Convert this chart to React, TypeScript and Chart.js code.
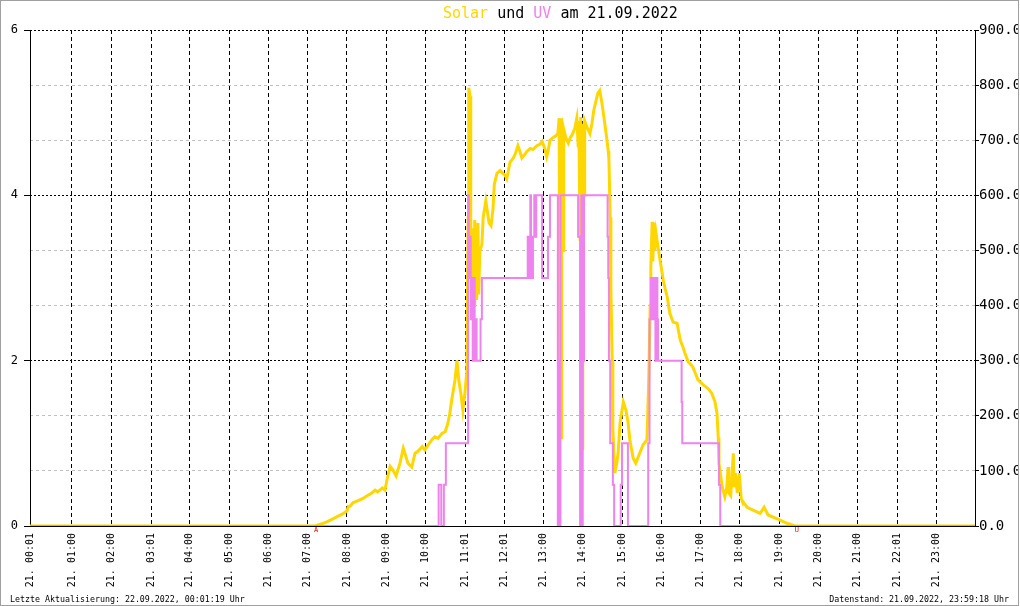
import React, { useEffect, useRef } from 'react';
import { Chart, registerables } from 'chart.js';

Chart.register(...registerables);

// ---- data (minutes since 00:00 on 21.09.2022) ----
const X_MIN = -4;
const X_MAX = 1439;

const HOUR_TICK_MIN = [X_MIN, 60, 120, 181, 240, 300, 360, 420, 480, 540, 600, 661, 721, 780, 840, 900, 960, 1020, 1080, 1140, 1200, 1260, 1321, 1380];
const HOUR_TICK_LABELS = [
  '21. 00:01', '21. 01:00', '21. 02:00', '21. 03:01', '21. 04:00', '21. 05:00',
  '21. 06:00', '21. 07:00', '21. 08:00', '21. 09:00', '21. 10:00', '21. 11:01',
  '21. 12:01', '21. 13:00', '21. 14:00', '21. 15:00', '21. 16:00', '21. 17:00',
  '21. 18:00', '21. 19:00', '21. 20:00', '21. 21:00', '21. 22:01', '21. 23:00',
];

// Solar radiation W/m² (right axis)
const SOLAR_MIN = [
  -4, 433, 434, 442, 450, 457, 465, 472, 480, 482, 485, 489, 497, 503, 511, 518, 523, 527, 534, 538,
  541, 546, 550, 555, 561, 566, 570, 573, 579, 584, 588, 595, 599, 604, 610, 614, 619, 625, 630, 634,
  637, 640, 645, 648, 651, 654, 657, 660, 663, 665, 666, 668, 669, 670, 672, 674, 675, 677, 678, 680,
  681, 683, 686, 688, 692, 697, 700, 703, 705, 709, 714, 718, 721, 724, 729, 734, 737, 741, 744, 747,
  752, 755, 760, 764, 770, 775, 778, 782, 785, 787, 790, 795, 799, 802, 804, 805, 807, 808, 810, 811,
  814, 818, 821, 824, 828, 831, 833, 834, 836, 837, 839, 840, 842, 843, 846, 851, 854, 857, 860, 863,
  866, 869, 872, 876, 879, 880, 882, 883, 885, 886, 888, 889, 892, 894, 897, 902, 906, 909, 912, 917,
  921, 927, 932, 938, 939, 941, 943, 944, 946, 947, 949, 950, 952, 955, 958, 963, 966, 969, 973, 978,
  984, 989, 993, 996, 1001, 1008, 1016, 1024, 1031, 1037, 1042, 1045, 1047, 1048, 1053, 1057, 1060, 1062, 1063, 1066,
  1070, 1071, 1073, 1076, 1079, 1082, 1083, 1091, 1100, 1111, 1117, 1123, 1137, 1152, 1164, X_MAX,
];
const SOLAR_WM2 = [
  0, 0, 1, 4, 8, 12, 17, 21, 27, 36, 36, 42, 46, 49, 55, 60, 65, 62, 69, 65,
  83, 108, 102, 91, 114, 141, 126, 114, 107, 132, 135, 144, 138, 147, 157, 162, 159, 168, 171, 186,
  204, 229, 265, 300, 262, 240, 210, 240, 280, 560, 795, 780, 560, 450, 540, 400, 555, 460, 410, 550,
  420, 500, 510, 560, 590, 550, 545, 575, 620, 640, 645, 640, 637, 630, 660, 668, 675, 690, 680, 668,
  675, 680, 685, 683, 690, 693, 698, 685, 670, 680, 700, 705, 708, 712, 740, 300, 160, 740, 500, 720,
  705, 695, 705, 710, 722, 740, 690, 735, 520, 742, 140, 730, 600, 735, 725, 712, 730, 755, 770, 785,
  790, 770, 745, 710, 680, 665, 560, 430, 300, 175, 120, 96, 114, 132, 187, 225, 210, 190, 156, 123,
  114, 132, 147, 156, 190, 277, 400, 470, 552, 480, 550, 500, 531, 506, 483, 446, 430, 416, 386, 370,
  368, 337, 325, 314, 298, 289, 265, 256, 250, 241, 225, 205, 160, 114, 71, 53, 70, 107, 60, 55,
  132, 70, 96, 60, 96, 50, 47, 34, 29, 23, 34, 20, 13, 5, 0, 0,
];

// UV index (left axis), value holds from each time until the next one
const UV_MIN = [
  -4, 620, 624, 628, 631, 665, 666, 668, 669, 670, 672, 674, 675, 677, 678, 684, 686,
  756, 758, 760, 761, 763, 764, 766, 767, 769, 778, 787, 790, 802, 804, 805, 806,
  833, 836, 837, 838, 839, 840, 842, 878, 879, 880, 882, 886, 888, 898, 900, 909,
  940, 942, 944, 945, 946, 947, 948, 949, 950, 951, 952, 953, 954, 955, 991, 992, 1048, 1050, X_MAX,
];
const UV_INDEX = [
  0, 0.5, 0, 0.5, 1, 4, 3, 3.5, 2.5, 3, 2, 3, 2, 2.5, 2, 2.5, 3,
  3.5, 3, 4, 3.5, 3, 3.5, 4, 3.5, 4, 3, 3.5, 4, 0, 2, 0, 4,
  3.5, 0, 1.5, 4, 0, 2, 4, 3.5, 3, 2, 1, 0.5, 0, 0.5, 1, 0,
  1, 2.5, 3, 2.5, 3, 2.5, 3, 2.5, 3, 2, 2.5, 3, 2.5, 2, 1.5, 1, 0.5, 0, 0,
];

const SUN_EVENT_MIN = [433, 1167];
const SUN_EVENT_LABELS = ['A', 'U'];

const TITLE_PARTS: [string, string][] = [
  ['Solar', '#FFD700'],
  [' und ', '#000000'],
  ['UV', '#EE82EE'],
  [' am 21.09.2022', '#000000'],
];
const FOOTER_LEFT = 'Letzte Aktualisierung: 22.09.2022, 00:01:19 Uhr';
const FOOTER_RIGHT = 'Datenstand: 21.09.2022, 23:59:18 Uhr';

const SOLAR_COLOR = '#FFD700';
const UV_COLOR = '#EE82EE';
const MONO = '"DejaVu Sans Mono", monospace';

const isMajor = (c: any) => !!(c && c.tick && c.tick.value % 300 === 0);

const overlayPlugin = {
  id: 'overlay',
  afterDraw(chart: any) {
    const ctx = chart.ctx as CanvasRenderingContext2D;
    ctx.save();
    // title
    ctx.font = `15px ${MONO}`;
    ctx.textAlign = 'left';
    ctx.textBaseline = 'alphabetic';
    let x = 443;
    for (const [t, c] of TITLE_PARTS) {
      ctx.fillStyle = c;
      ctx.fillText(t, x, 18);
      x += ctx.measureText(t).width;
    }
    // footer
    ctx.font = `8.3px ${MONO}`;
    ctx.fillStyle = '#000';
    ctx.fillText(FOOTER_LEFT, 10, 602);
    ctx.textAlign = 'right';
    ctx.fillText(FOOTER_RIGHT, 1009, 602);
    // sunrise / sunset markers
    const xs = chart.scales.x;
    ctx.font = `7px ${MONO}`;
    ctx.fillStyle = '#ff0000';
    ctx.textAlign = 'center';
    ctx.textBaseline = 'top';
    SUN_EVENT_MIN.forEach((m, i) => {
      ctx.fillText(SUN_EVENT_LABELS[i], xs.getPixelForValue(m), 527);
    });
    // frame
    ctx.fillStyle = '#fff';
    ctx.fillRect(1019, 0, 1, 606);
    ctx.strokeStyle = '#a0a0a0';
    ctx.lineWidth = 1;
    ctx.strokeRect(0.5, 0.5, 1018, 605);
    ctx.restore();
  },
};

export default function App() {
  const ref = useRef<HTMLCanvasElement | null>(null);

  useEffect(() => {
    if (!ref.current) return;
    const chart = new Chart(ref.current, {
      type: 'line',
      data: {
        datasets: [
          {
            label: 'UV',
            data: UV_MIN.map((m, i) => ({ x: m, y: UV_INDEX[i] })),
            yAxisID: 'y',
            borderColor: UV_COLOR,
            backgroundColor: UV_COLOR,
            borderWidth: 2,
            stepped: true,
            pointRadius: 0,
            fill: false,
          },
          {
            label: 'Solar',
            data: SOLAR_MIN.map((m, i) => ({ x: m, y: SOLAR_WM2[i] })),
            yAxisID: 'y1',
            borderColor: SOLAR_COLOR,
            backgroundColor: SOLAR_COLOR,
            borderWidth: 3,
            tension: 0,
            pointRadius: 0,
            fill: false,
          },
        ],
      },
      options: {
        responsive: false,
        animation: false,
        devicePixelRatio: 1,
        layout: { padding: { top: 30, left: 0, right: 0, bottom: 0 } },
        plugins: {
          legend: { display: false },
          title: { display: false },
          tooltip: { enabled: false },
        },
        scales: {
          x: {
            type: 'linear',
            min: X_MIN,
            max: X_MAX,
            afterBuildTicks: (scale: any) => {
              scale.ticks = HOUR_TICK_MIN.map((v) => ({ value: v }));
            },
            afterFit: (scale: any) => {
              scale.height = 80;
            },
            ticks: {
              autoSkip: false,
              maxRotation: 90,
              minRotation: 90,
              padding: 7,
              color: '#000',
              font: { family: MONO, size: 10 },
              callback: (_v: any, i: number) => HOUR_TICK_LABELS[i],
            },
            grid: {
              color: '#000',
              lineWidth: 1,
              drawTicks: false,
            },
            border: { display: true, color: '#000', width: 1, dash: [4, 3] },
          },
          y: {
            type: 'linear',
            position: 'left',
            min: 0,
            max: 6,
            afterFit: (scale: any) => {
              scale.width = 30;
            },
            ticks: {
              stepSize: 2,
              padding: 6,
              color: '#000',
              font: { family: MONO, size: 12 },
            },
            grid: {
              drawOnChartArea: false,
              drawTicks: true,
              tickLength: 6,
              tickColor: '#000',
              color: '#000',
            },
            border: { display: true, color: '#000', width: 1 },
          },
          y1: {
            type: 'linear',
            position: 'right',
            min: 0,
            max: 900,
            afterFit: (scale: any) => {
              scale.width = 45;
            },
            ticks: {
              stepSize: 100,
              padding: 0,
              color: '#000',
              font: { family: MONO, size: 14 },
              callback: (v: any) => Number(v).toFixed(1),
            },
            grid: {
              color: (c: any) => (isMajor(c) ? '#000000' : '#c0c0c0'),
              lineWidth: 1,
              drawTicks: true,
              tickLength: 4,
              tickColor: '#000',
              tickBorderDash: [],
            },
            border: {
              display: true,
              color: '#000',
              width: 1,
              dash: (c: any) => (c && c.tick ? (isMajor(c) ? [2, 2] : [3, 3]) : []),
            },
          },
        },
      },
      plugins: [overlayPlugin],
    } as any);
    return () => chart.destroy();
  }, []);

  return (
    <div style={{ position: 'absolute', left: 0, top: 0, width: 1020, height: 606, background: '#fff' }}>
      <canvas ref={ref} width={1020} height={606} style={{ display: 'block' }} />
    </div>
  );
}
